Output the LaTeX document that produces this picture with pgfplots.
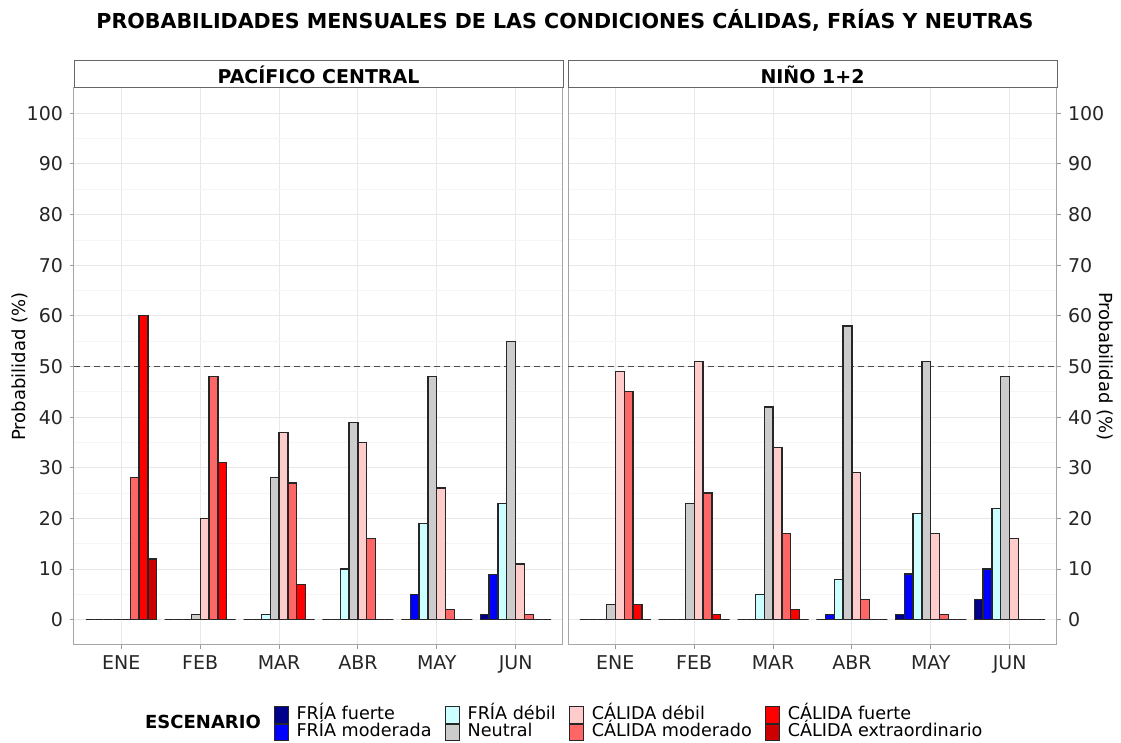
\documentclass[border=0pt]{standalone}
\usepackage{pgfplots}
\pgfplotsset{compat=1.18}
\usepackage{pgfplotstable}
\usepackage{fontspec}
\setmainfont{DejaVu Sans}

\definecolor{cff}{HTML}{00008B}
\definecolor{cfm}{HTML}{0000FF}
\definecolor{cfd}{HTML}{CCFFFF}
\definecolor{cn}{HTML}{CCCCCC}
\definecolor{ccd}{HTML}{FFCCCC}
\definecolor{ccm}{HTML}{FF6666}
\definecolor{ccf}{HTML}{FF0000}
\definecolor{cce}{HTML}{CC0000}

\pgfplotstableread{
x ff fm fd n cd cm cf ce
1 0 0 0 0 0 28 60 12
2 0 0 0 1 20 48 31 0
3 0 0 1 28 37 27 7 0
4 0 0 10 39 35 16 0 0
5 0 5 19 48 26 2 0 0
6 1 9 23 55 11 1 0 0
}\tabPC

\pgfplotstableread{
x ff fm fd n cd cm cf ce
1 0 0 0 3 49 45 3 0
2 0 0 0 23 51 25 1 0
3 0 0 5 42 34 17 2 0
4 0 1 8 58 29 4 0 0
5 1 9 21 51 17 1 0 0
6 4 10 22 48 16 0 0 0
}\tabNI

\pgfplotsset{
  panel/.style={
    scale only axis, width=244.5pt, height=278.5pt,
    xmin=0.4, xmax=6.6, ymin=-5, ymax=105,
    xtick={1,...,6}, xticklabels={ENE,FEB,MAR,ABR,MAY,JUN},
    ytick={0,10,...,100}, minor ytick={5,15,...,95},
    grid=both,
    major grid style={color=black!9, line width=0.5pt},
    minor grid style={color=black!4, line width=0.4pt},
    axis line style={color=black!35, line width=0.5pt},
    tick style={color=black!40, line width=0.5pt},
    major tick length=2pt, minor tick length=0pt, tick align=outside,
    xtick pos=lower,
    ticklabel style={font=\fontsize{9.5}{11}\selectfont, color=black!85},
    /pgf/number format/assume math mode=true,
    ylabel style={font=\fontsize{9}{11}\selectfont},
    ylabel={Probabilidad (\%)},
  },
  bars/.style={ybar, bar width=0.1125, bar shift=0pt, draw=black!85, line width=0.6pt, fill=#1},
  dline/.style={sharp plot, black!70, line width=0.6pt, dash pattern=on 3pt off 2pt, forget plot},
}

\begin{document}
\begin{tikzpicture}
\useasboundingbox (0,0) rectangle (560.5pt,371.5pt);

% title
\node[font=\bfseries\fontsize{10.3}{12}\selectfont] at (282.5pt,361.5pt) {PROBABILIDADES MENSUALES DE LAS CONDICIONES CÁLIDAS, FRÍAS Y NEUTRAS};

\begin{axis}[panel, at={(37pt,49pt)}, anchor=south west,
  ytick pos=left,
  ylabel style={at={(axis description cs:-0.110,0.5)}, anchor=center},
  legend columns=2, transpose legend,
  legend cell align=left,
  legend image code/.code={\draw[#1, line width=0.5pt] (0pt,-4.1pt) rectangle (7pt,4.1pt);},
  legend style={at={(axis description cs:1.133,-0.141)}, anchor=center,
    draw=none, fill=none, font=\fontsize{8.8}{10}\selectfont,
    row sep=0pt,
    nodes={inner sep=0pt, text height=6.5pt, text depth=1.8pt},
    /tikz/every odd column/.append style={column sep=4pt},
    /tikz/every even column/.append style={column sep=6.5pt}},
]
\addplot[dline] coordinates {(0.4,50) (6.6,50)};
\addplot[bars=cff] table[x expr=\thisrow{x}-0.39375, y=ff] {\tabPC};
\addlegendentry{FRÍA fuerte}
\addplot[bars=cfm] table[x expr=\thisrow{x}-0.28125, y=fm] {\tabPC};
\addlegendentry{FRÍA moderada}
\addplot[bars=cfd] table[x expr=\thisrow{x}-0.16875, y=fd] {\tabPC};
\addlegendentry{FRÍA débil}
\addplot[bars=cn] table[x expr=\thisrow{x}-0.05625, y=n] {\tabPC};
\addlegendentry{Neutral}
\addplot[bars=ccd] table[x expr=\thisrow{x}+0.05625, y=cd] {\tabPC};
\addlegendentry{CÁLIDA débil}
\addplot[bars=ccm] table[x expr=\thisrow{x}+0.16875, y=cm] {\tabPC};
\addlegendentry{CÁLIDA moderado}
\addplot[bars=ccf] table[x expr=\thisrow{x}+0.28125, y=cf] {\tabPC};
\addlegendentry{CÁLIDA fuerte}
\addplot[bars=cce] table[x expr=\thisrow{x}+0.39375, y=ce] {\tabPC};
\addlegendentry{CÁLIDA extraordinario}
\end{axis}

\begin{axis}[panel, at={(284pt,49pt)}, anchor=south west,
  ytick pos=right, yticklabel pos=right,
  ylabel style={at={(axis description cs:1.098,0.5)}, anchor=center, rotate=180},
]
\addplot[dline] coordinates {(0.4,50) (6.6,50)};
\addplot[bars=cff] table[x expr=\thisrow{x}-0.39375, y=ff] {\tabNI};
\addplot[bars=cfm] table[x expr=\thisrow{x}-0.28125, y=fm] {\tabNI};
\addplot[bars=cfd] table[x expr=\thisrow{x}-0.16875, y=fd] {\tabNI};
\addplot[bars=cn] table[x expr=\thisrow{x}-0.05625, y=n] {\tabNI};
\addplot[bars=ccd] table[x expr=\thisrow{x}+0.05625, y=cd] {\tabNI};
\addplot[bars=ccm] table[x expr=\thisrow{x}+0.16875, y=cm] {\tabNI};
\addplot[bars=ccf] table[x expr=\thisrow{x}+0.28125, y=cf] {\tabNI};
\addplot[bars=cce] table[x expr=\thisrow{x}+0.39375, y=ce] {\tabNI};
\end{axis}

% strips
\draw[black!60, line width=0.5pt, fill=white] (37pt,327.5pt) rectangle (281.5pt,341pt);
\node[font=\bfseries\fontsize{9.5}{11}\selectfont] at (159.25pt,334.25pt) {PACÍFICO CENTRAL};
\draw[black!60, line width=0.5pt, fill=white] (284pt,327.5pt) rectangle (528.5pt,341pt);
\node[font=\bfseries\fontsize{9.5}{11}\selectfont] at (406.25pt,334.25pt) {NIÑO 1+2};

% legend title
\node[font=\bfseries\fontsize{9}{11}\selectfont] at (101.5pt,10.5pt) {ESCENARIO};
\end{tikzpicture}
\end{document}
